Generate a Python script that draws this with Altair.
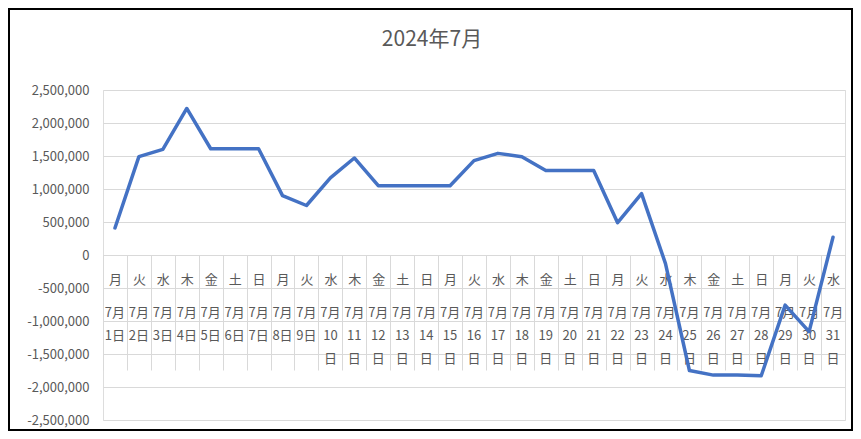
import altair as alt
import pandas as pd

TITLE = "2024年7月"
WEEKDAYS = ["月", "火", "水", "木", "金", "土", "日", "月", "火", "水", "木", "金", "土", "日",
            "月", "火", "水", "木", "金", "土", "日", "月", "火", "水", "木", "金", "土", "日",
            "月", "火", "水"]
DATES = [f"7月{d}日" for d in range(1, 32)]
VALUES = [410000, 1490000, 1600000, 2220000, 1610000, 1610000, 1610000, 900000, 750000,
          1170000, 1470000, 1050000, 1050000, 1050000, 1050000, 1430000, 1540000, 1490000,
          1280000, 1280000, 1280000, 490000, 930000, -130000, -1750000, -1820000, -1820000,
          -1830000, -760000, -1160000, 270000]
Y_TICKS = [-2500000, -2000000, -1500000, -1000000, -500000, 0, 500000, 1000000,
           1500000, 2000000, 2500000]


def wrap_date(s):
    # Excel wraps the narrow category cells: "7月" / "1日" or "7月" / "10" / "日"
    month, day = s.split("月")
    num = day[:-1]
    if len(num) == 1:
        return [month + "月", day]
    return [month + "月", num, "日"]


keys = ["|".join([w] + wrap_date(d)) for w, d in zip(WEEKDAYS, DATES)]
df = pd.DataFrame({"key": keys, "value": VALUES})

FONT = "Noto Sans CJK JP"
TXT = "#595959"
GRID = "#d9d9d9"

yenc = alt.Y(
    "value:Q",
    scale=alt.Scale(domain=[-2500000, 2500000], nice=False, zero=False),
    axis=alt.Axis(
        values=Y_TICKS, title=None, domain=False, ticks=False, grid=True,
        gridColor=GRID, gridWidth=1, labelColor=TXT, labelFont=FONT, labelFontSize=13,
        labelPadding=14,
        labelExpr="(datum.value < 0 ? '-' : '') + format(abs(datum.value), ',')",
    ),
)

xscale = alt.Scale(type="band", paddingInner=0, paddingOuter=0)

line = alt.Chart(df).mark_line(color="#4472C4", strokeWidth=3.5, strokeJoin="round",
                               strokeCap="round").encode(
    x=alt.X("key:N", sort=None, scale=xscale, bandPosition=0.5,
            axis=alt.Axis(orient="bottom", offset=-165, title=None, domain=True,
                          domainColor=GRID, ticks=True, tickBand="extent", tickSize=115,
                          tickColor=GRID, labelAngle=0, labelOverlap=False,
                          labelBaseline="middle", labelPadding=-91, labelColor=TXT,
                          labelFont=FONT, labelFontSize=13,
                          labelExpr="split(datum.label, '|')[0]")),
    y=yenc,
)

dates = alt.Chart(df).mark_line(opacity=0).encode(
    x=alt.X("key:N", sort=None, scale=xscale, bandPosition=0.5,
            axis=alt.Axis(orient="bottom", offset=-165, title=None, domain=False,
                          ticks=False, tickSize=0, labelAngle=0, labelOverlap=False,
                          labelBaseline="top", labelPadding=51, labelLineHeight=23,
                          labelColor=TXT, labelFont=FONT, labelFontSize=13,
                          labelExpr="slice(split(datum.label, '|'), 1)")),
    y=yenc,
)

title = alt.Chart(pd.DataFrame({"t": [TITLE]})).mark_text(
    font=FONT, fontSize=21, color=TXT, align="center", baseline="middle"
).encode(text="t:N", x=alt.value(329), y=alt.value(-50))

border = alt.Chart(pd.DataFrame({"t": [TITLE]})).mark_rect(
    fill="transparent", stroke="black", strokeWidth=2
).encode(x=alt.value(-94), x2=alt.value(749), y=alt.value(-81), y2=alt.value(340))

chart = alt.layer(line, dates, title, border).resolve_scale(x="independent").properties(
    width=742, height=330,
    autosize=alt.AutoSizeParams(type="none"),
    padding={"left": 95, "top": 82, "right": 8, "bottom": 11},
).configure_view(stroke=None).configure(background="white")

chart.save("out.html", embed_options={"renderer": "svg", "actions": False})
